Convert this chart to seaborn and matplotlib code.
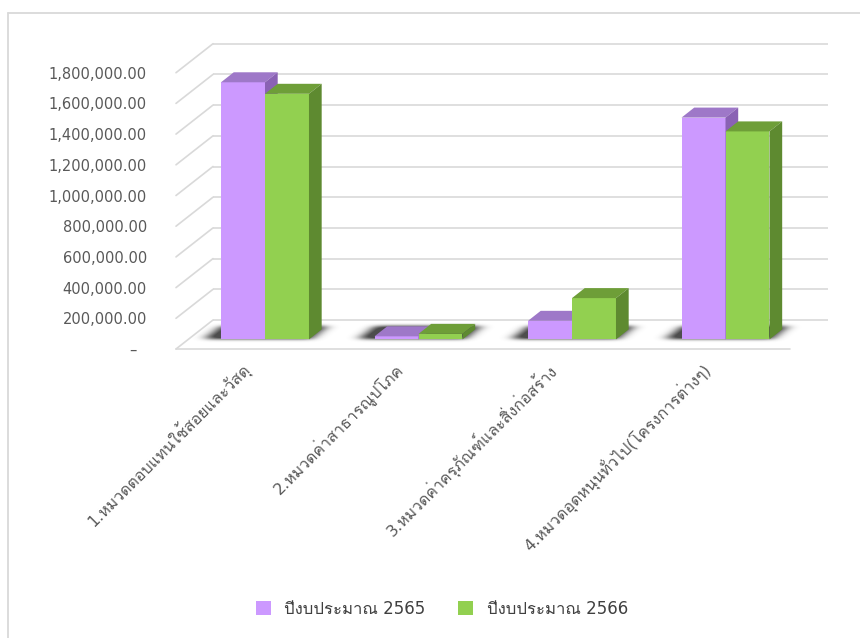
import matplotlib
matplotlib.use("Agg")
import matplotlib.pyplot as plt
from matplotlib import font_manager
from matplotlib.ft2font import FT2Font
from matplotlib.patches import Polygon, Patch
from matplotlib.lines import Line2D
import matplotlib.transforms as mtransforms
import numpy as np
import seaborn as sns
import pandas as pd

# ---------------- data ----------------
categories = [
    "1.หมวดตอบแทนใช้สอยและวัสดุ",
    "2.หมวดค่าสาธารณูปโภค",
    "3.หมวดค่าครุภัณฑ์และสิ่งก่อสร้าง",
    "4.หมวดอุดหนุนทั่วไป(โครงการต่างๆ)",
]
series_names = ["ปีงบประมาณ 2565", "ปีงบประมาณ 2566"]
values_2565 = [1675000, 20000, 121000, 1445000]
values_2566 = [1600000, 36000, 269000, 1355000]
ytick_values = [0, 200000, 400000, 600000, 800000, 1000000, 1200000, 1400000, 1600000, 1800000]
ytick_labels = ["–  ", "200,000.00", "400,000.00", "600,000.00", "800,000.00",
                "1,000,000.00", "1,200,000.00", "1,400,000.00", "1,600,000.00", "1,800,000.00"]

# ---------------- fonts ----------------
def find_thai_fonts():
    found = []
    for f in font_manager.fontManager.ttflist:
        try:
            ft = FT2Font(f.fname)
            if ft.get_char_index(ord("ก")) and ft.get_char_index(ord("ป")):
                if f.name not in found:
                    found.append(f.name)
        except Exception:
            pass
    if "Loma" in found:
        found.remove("Loma")
        found.insert(0, "Loma")
    return found

thai = find_thai_fonts()
sns.set_style("white")
plt.rcParams["font.family"] = ["DejaVu Sans"] + thai

# ---------------- colours ----------------
front_cols = ["#CC99FF", "#92D050"]
top_cols = ["#9E78C8", "#6E9E38"]
side_cols = ["#8A62B4", "#5E8A30"]
grid_col = "#D9D9D9"
text_col = "#595959"

W, H = 860, 638
fig = plt.figure(figsize=(W / 100, H / 100), dpi=100)

# bar plane geometry (pixels)
left_px, right_px = 188.25, 802.25
base_px, top_px = 339.4, 63.1
ax = fig.add_axes([left_px / W, (H - base_px) / H, (right_px - left_px) / W, (base_px - top_px) / H])
ax.set_xlim(-0.5, 3.5)
ax.set_ylim(0, 1800000)

sx = (right_px - left_px) / 4.0          # px per category
sy = (base_px - top_px) / 1800000.0      # px per value unit

def px2x(p):
    return p / sx

def px2y(p):
    return p / sy

front_off = (-12.25, -9.6)   # bar plane -> front plane
back_off = (24.75, 19.4)     # bar plane -> back wall
bar_depth = (12.7, 10.0)

df = pd.DataFrame({
    "category": categories * 2,
    "year": [series_names[0]] * 4 + [series_names[1]] * 4,
    "value": values_2565 + values_2566,
})

sns.barplot(data=df, x="category", y="value", hue="year", palette=front_cols,
            width=0.573, gap=0, saturation=1, ax=ax, legend=False,
            edgecolor="none", linewidth=0)

# ---------------- walls / grid ----------------
bx0 = -0.5 + px2x(back_off[0])
bx1 = 3.5 + px2x(back_off[0]) + px2x(1)
fx0 = -0.5 + px2x(front_off[0])
for v in ytick_values:
    yb = v + px2y(back_off[1])
    yf = v + px2y(front_off[1])
    ax.plot([bx0, bx1], [yb, yb], color=grid_col, lw=1.2, clip_on=False, zorder=0.5,
            solid_capstyle="butt")
    ax.plot([fx0, bx0], [yf, yb], color=grid_col, lw=1.2, clip_on=False, zorder=0.5)
ax.plot([fx0, 3.5 + px2x(front_off[0])], [px2y(front_off[1])] * 2, color=grid_col, lw=1.2,
        clip_on=False, zorder=0.5)

# ---------------- 3D faces ----------------
bars = [p for p in ax.patches]
ddx, ddy = px2x(bar_depth[0]), px2y(bar_depth[1])
groups = {}
for i, p in enumerate(bars):
    s = i // 4
    c = i % 4
    x0, w, h = p.get_x(), p.get_width(), p.get_height()
    p.set_zorder(2 + s)
    groups.setdefault(c, []).append((x0, w, h))
    top = Polygon([(x0, h), (x0 + w, h), (x0 + w + ddx, h + ddy), (x0 + ddx, h + ddy)],
                  closed=True, facecolor=top_cols[s], edgecolor="none", zorder=2.1 + s,
                  clip_on=False)
    side = Polygon([(x0 + w, 0), (x0 + w, h), (x0 + w + ddx, h + ddy), (x0 + w + ddx, ddy)],
                   closed=True, facecolor=side_cols[s], edgecolor="none", zorder=2.1 + s,
                   clip_on=False)
    ax.add_patch(top)
    ax.add_patch(side)

# ---------------- soft floor shadows (blurred image) ----------------
def blur1d(a, sigma, axis):
    r = int(3 * sigma)
    k = np.exp(-0.5 * (np.arange(-r, r + 1) / sigma) ** 2)
    k /= k.sum()
    return np.apply_along_axis(lambda m: np.convolve(m, k, mode="same"), axis, a)

for c, lst in groups.items():
    gx0 = lst[0][0]
    gx1 = lst[-1][0] + lst[-1][1]
    wg = (gx1 - gx0) * sx
    padl, padr, padb, padt = 50, 35, 10, 25
    nx = int(wg + bar_depth[0] + padl + padr)
    ny = int(bar_depth[1] + padb + padt)
    xs = np.arange(nx) - padl + 0.5
    ys = np.arange(ny) - padb + 0.5  # upward
    X, Y = np.meshgrid(xs, ys)
    t = Y / bar_depth[1]
    xr = X - t * bar_depth[0]
    mask = ((Y >= 0.5) & (Y <= bar_depth[1] + 3) & (xr >= -16) & (xr <= wg + 2)).astype(float)
    a = blur1d(mask, 6.0, 1)
    a = blur1d(a, 1.6, 0)
    a = np.clip(a * 1.05, 0, 0.85)
    img = np.zeros((ny, nx, 4))
    img[..., :3] = 0.18
    img[..., 3] = a
    ext = [gx0 - px2x(padl), gx0 + px2x(nx - padl), -px2y(padb), px2y(ny - padb)]
    ax.imshow(img, origin="lower", extent=ext, aspect="auto", zorder=1.5,
              interpolation="bilinear", clip_on=False)
ax.set_xlim(-0.5, 3.5)
ax.set_ylim(0, 1800000)

# ---------------- ticks ----------------
for sp in ax.spines.values():
    sp.set_visible(False)
ax.set_xlabel("")
ax.set_ylabel("")
ax.set_yticks(ytick_values, ytick_labels)
ax.tick_params(axis="y", length=0, pad=21, labelsize=10.5, labelcolor=text_col)
shift = mtransforms.ScaledTranslation(front_off[0] / 100, front_off[1] / 100, fig.dpi_scale_trans)
shift_x = mtransforms.ScaledTranslation((front_off[0] - 6) / 100, (front_off[1] + 2) / 100,
                                        fig.dpi_scale_trans)
for lab in ax.get_yticklabels():
    lab.set_transform(lab.get_transform() + shift)
ax.set_xticks(range(4), categories)
ax.tick_params(axis="x", length=0, pad=14, labelsize=11.5, labelcolor=text_col)
for lab in ax.get_xticklabels():
    lab.set_rotation(45)
    lab.set_ha("right")
    lab.set_va("center")
    lab.set_rotation_mode("anchor")
    lab.set_transform(lab.get_transform() + shift_x)

# ---------------- legend ----------------
handles = [Patch(facecolor=front_cols[0], edgecolor="none"),
           Patch(facecolor=front_cols[1], edgecolor="none")]
leg = fig.legend(handles, series_names, loc="center", bbox_to_anchor=(442 / W, 1 - 609 / H),
                 ncol=2, frameon=False, handlelength=0.9, handleheight=0.9,
                 handletextpad=0.8, columnspacing=1.95, fontsize=12)
for t in leg.get_texts():
    t.set_color("#404040")

# ---------------- frame ----------------
fig.add_artist(Line2D([8 / W, 1], [1 - 13 / H, 1 - 13 / H], color="#D9D9D9", lw=1.3))
fig.add_artist(Line2D([8 / W, 8 / W], [0, 1 - 13 / H], color="#D9D9D9", lw=1.3))

fig.savefig("out.png", dpi=100)
